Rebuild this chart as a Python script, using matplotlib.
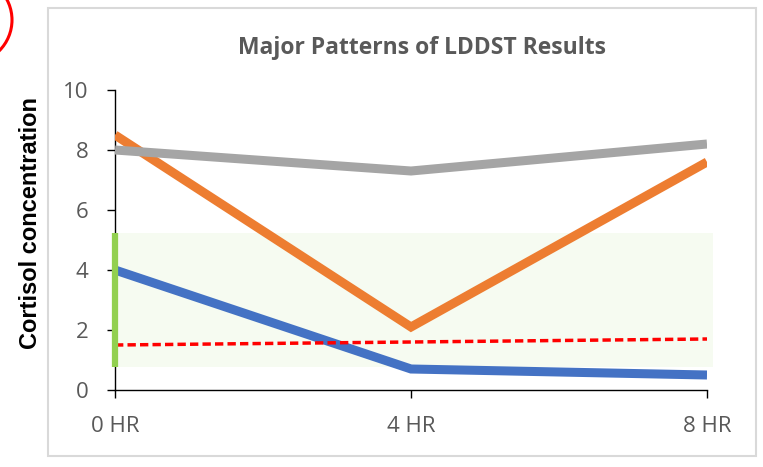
import matplotlib
matplotlib.use("Agg")
import matplotlib.pyplot as plt
import matplotlib.patches as mpatches

W, H = 763, 467

times = [0, 4, 8]
time_labels = ["0 HR", "4 HR", "8 HR"]
blue_vals = [4.0, 0.7, 0.5]
orange_vals = [8.5, 2.1, 7.6]
gray_vals = [8.0, 7.3, 8.2]
cutoff_vals = [1.5, 1.6, 1.7]
band_low, band_high = 0.77, 5.23
y_ticks = [0, 2, 4, 6, 8, 10]

TXT = "#595959"
FONT = "Open Sans"

fig = plt.figure(figsize=(W / 100, H / 100), dpi=100, facecolor="white")
ax = fig.add_axes([115 / W, 1 - 390 / H, (707 - 115) / W, 300 / H])

# outer chart frame and the red annotation circle
fig.patches.append(mpatches.Rectangle((48 / W, 1 - 456 / H), 708 / W, 448 / H,
                                      transform=fig.transFigure, fill=False,
                                      edgecolor="#d9d9d9", linewidth=1.5))
fig.patches.append(mpatches.Ellipse((-31.5 / W, 1 - 20 / H), 87 / W, 87 / H,
                                    transform=fig.transFigure, fill=False,
                                    edgecolor="#ff0000", linewidth=2.2))

# normal range band
ax.add_patch(mpatches.Rectangle((0, band_low), 8.08, band_high - band_low,
                                facecolor="#f6fbf1", edgecolor="none",
                                clip_on=False, zorder=0))

kw = dict(linewidth=6.5, solid_capstyle="butt", solid_joinstyle="miter")
ax.plot(times, blue_vals, color="#4472c4", zorder=3, **kw)
ax.plot(times, orange_vals, color="#ed7d31", zorder=4, **kw)
ax.plot(times, gray_vals, color="#a5a5a5", zorder=5, **kw)
red, = ax.plot(times, cutoff_vals, color="#ff0000", linewidth=2.5,
               dash_capstyle="butt", zorder=6)
red.set_dashes([2.4, 1.2])
ax.plot([0, 0], [band_low, band_high], color="#92d050", linewidth=4.5,
        solid_capstyle="butt", zorder=7, clip_on=False)

ax.set_xlim(0, 8)
ax.set_ylim(0, 10)
ax.set_xticks(times)
ax.set_xticklabels(time_labels)
ax.set_yticks(y_ticks)
for s in ["top", "right"]:
    ax.spines[s].set_visible(False)
for s in ["left", "bottom"]:
    ax.spines[s].set_color("#000000")
    ax.spines[s].set_linewidth(1.0)
ax.tick_params(axis="both", direction="out", length=6, width=1.0,
               color="#000000", labelcolor=TXT, labelsize=16)
ax.tick_params(axis="y", pad=13)
ax.tick_params(axis="x", pad=13)
for lab in ax.get_xticklabels() + ax.get_yticklabels():
    lab.set_fontfamily(FONT)

fig.text(422 / W, 1 - 48 / H, "Major Patterns of LDDST Results", ha="center",
         va="center", color=TXT, fontsize=16.5, fontweight="bold", family=FONT)
fig.text(31 / W, 1 - 223 / H, "Cortisol concentration", rotation=90, ha="center",
         va="center", color="black", fontsize=17, fontweight="bold",
         family="Liberation Sans")

fig.savefig("out.png", dpi=100, facecolor="white")
